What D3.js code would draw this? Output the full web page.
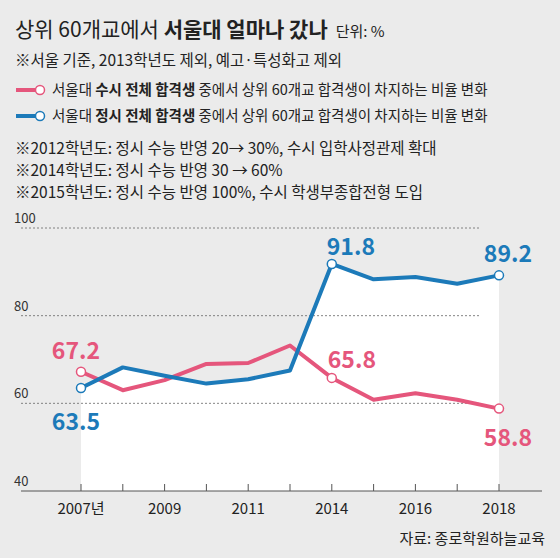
<!DOCTYPE html><html><head><meta charset="utf-8"><script src="https://cdn.jsdelivr.net/npm/d3@7"></script>
<style>body{margin:0;background:#ebebeb}text{font-family:"Noto Sans CJK KR",sans-serif}</style></head><body>
<svg id="c" width="560" height="558"></svg>
<script>
const years=["2007","2008","2009","2010","2011","2012","2014","2015","2016","2017","2018"];
const tickLabels={"2007":"2007년","2009":"2009","2011":"2011","2014":"2014","2016":"2016","2018":"2018"};
const susi=[67.2,63.0,65.3,69.0,69.2,73.2,65.8,60.8,62.3,60.8,58.8];
const jeongsi=[63.5,68.2,66.3,64.5,65.5,67.5,91.8,88.3,88.8,87.3,89.2];
const yTicks=[40,60,80,100];
const pink="#e5567c",blue="#1c7ab9";
const svg=d3.select("#c");
svg.append("rect").attr("width",560).attr("height",558).attr("fill","#ebebeb");
const x=d3.scalePoint().domain(years).range([81,499]);
const y=d3.scaleLinear().domain([40,100]).range([491,228]);
svg.append("path").datum(jeongsi).attr("fill","#fff")
 .attr("d",d3.area().x((d,i)=>x(years[i])).y0(y(40)).y1(d=>y(d)));
yTicks.forEach(t=>{
 if(t>40) svg.append("line").attr("x1",21).attr("x2",479).attr("y1",y(t)).attr("y2",y(t)).attr("stroke","#666").attr("stroke-dasharray","2,2").attr("stroke-width",0.8);
 svg.append("text").attr("x",14).attr("y",y(t)-5).attr("font-size",13).attr("fill","#333").attr("font-family","Roboto").text(t);
});
svg.append("line").attr("x1",21).attr("x2",542).attr("y1",y(40)).attr("y2",y(40)).attr("stroke","#555");
years.forEach(yr=>{
 svg.append("line").attr("x1",x(yr)).attr("x2",x(yr)).attr("y1",y(40)).attr("y2",y(40)-7).attr("stroke","#555");
 if(tickLabels[yr]) svg.append("text").attr("x",x(yr)).attr("y",514).attr("text-anchor","middle").attr("font-size",15).attr("fill","#222").text(tickLabels[yr]);
});
const line=d3.line().x((d,i)=>x(years[i])).y(d=>y(d));
[[susi,pink],[jeongsi,blue]].forEach(([s,c])=>{
 svg.append("path").datum(s).attr("fill","none").attr("stroke",c).attr("stroke-width",4).attr("stroke-linejoin","round").attr("d",line);
});
[[susi,pink],[jeongsi,blue]].forEach(([s,c])=>[0,6,10].forEach(i=>{
 svg.append("circle").attr("cx",x(years[i])).attr("cy",y(s[i])).attr("r",4.5).attr("fill","#fff").attr("stroke",c).attr("stroke-width",1.5);
}));
// [series, index, colour, dx, dy, anchor]
const marks=[[susi,0,pink,19,-13,"end"],[jeongsi,0,blue,19,42,"end"],[susi,6,pink,-4,-10,"start"],[jeongsi,6,blue,-5,-9,"start"],[jeongsi,10,blue,33,-13,"end"],[susi,10,pink,33,37,"end"]];
marks.forEach(([s,i,c,dx,dy,anc])=>{
 svg.append("text").attr("x",x(years[i])+dx).attr("y",y(s[i])+dy).attr("text-anchor",anc)
  .attr("font-size",23).attr("font-weight","bold").attr("font-family","Roboto").attr("fill",c).text(s[i].toFixed(1));
});
svg.append("text").attr("x",545).attr("y",544).attr("text-anchor","end").attr("font-size",15).attr("fill","#222").text("자료: 종로학원하늘교육");
const t=svg.append("text").attr("x",15).attr("y",37).attr("font-size",21).attr("fill","#222");
t.append("tspan").text("상위 60개교에서 ");
t.append("tspan").attr("font-weight","bold").text("서울대 얼마나 갔나");
t.append("tspan").attr("font-size",15).attr("dx",8).text("단위: %");
svg.append("text").attr("x",15).attr("y",66).attr("font-size",15.5).attr("fill","#222").text("※서울 기준, 2013학년도 제외, 예고·특성화고 제외");
[[pink,"수시 전체 합격생",95],[blue,"정시 전체 합격생",121]].forEach(([c,b,yy])=>{
 svg.append("line").attr("x1",16).attr("x2",36).attr("y1",yy-5).attr("y2",yy-5).attr("stroke",c).attr("stroke-width",4);
 svg.append("circle").attr("cx",40).attr("cy",yy-5).attr("r",4.5).attr("fill","#fff").attr("stroke",c).attr("stroke-width",1.5);
 const l=svg.append("text").attr("x",52).attr("y",yy).attr("font-size",14.5).attr("fill","#222");
 l.append("tspan").text("서울대 ");l.append("tspan").attr("font-weight","bold").text(b);
 l.append("tspan").text(" 중에서 상위 60개교 합격생이 차지하는 비율 변화");
});
["※2012학년도: 정시 수능 반영 20→ 30%, 수시 입학사정관제 확대","※2014학년도: 정시 수능 반영 30 → 60%","※2015학년도: 정시 수능 반영 100%, 수시 학생부종합전형 도입"].forEach((s,i)=>
 svg.append("text").attr("x",15).attr("y",154+i*22).attr("font-size",15.5).attr("fill","#222").text(s));
</script></body></html>
